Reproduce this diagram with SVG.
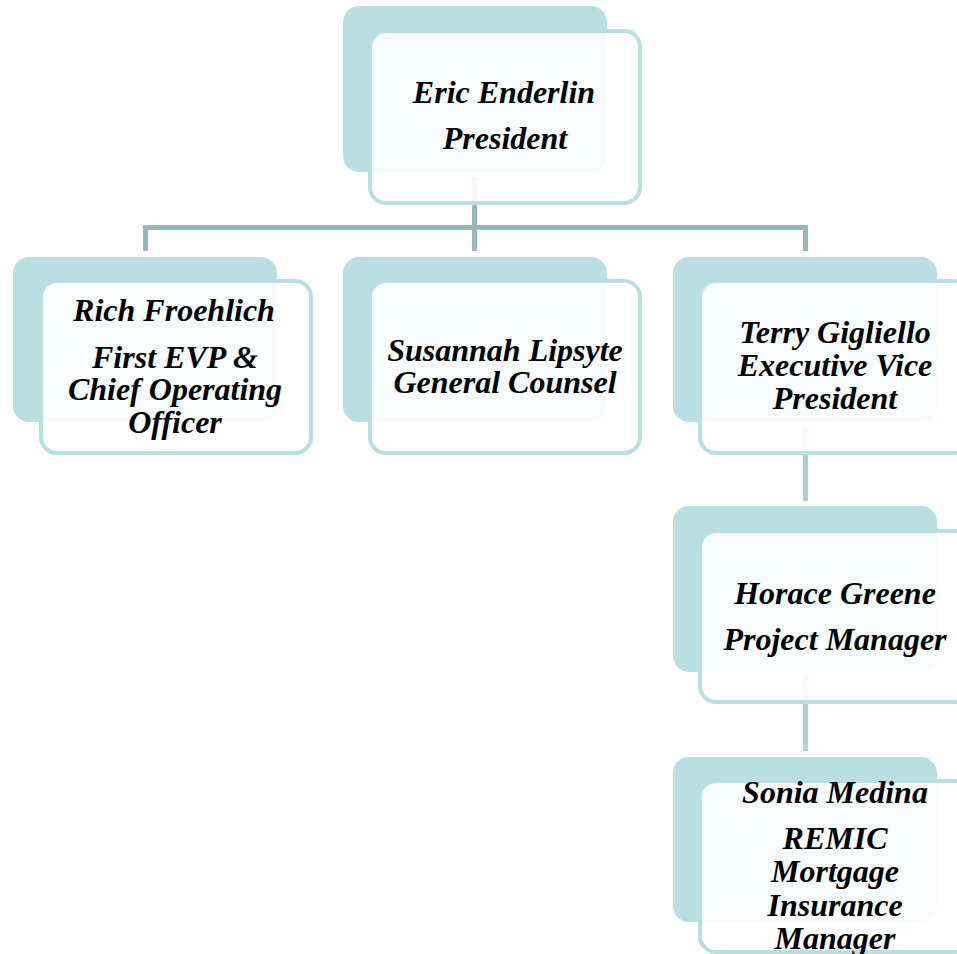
<svg xmlns="http://www.w3.org/2000/svg" width="957" height="954" viewBox="0 0 957 954">
<style>
.bk{fill:#b9dfe2}
.fr{fill:#ffffff;fill-opacity:0.88;stroke:#b9dfe2;stroke-width:4}
.t{font-family:"Liberation Serif","Times New Roman",serif;font-weight:bold;font-style:italic;font-size:32px;fill:#000;text-anchor:middle}
.c1{stroke:#97b8bb;stroke-width:5;fill:none}
.c2{stroke:#a9d3d7;stroke-width:5;fill:none}
</style>
<rect width="957" height="954" fill="#ffffff"/>
<g id="connectors">
<path class="c1" d="M474.5 177V227.5M145.5 251V227.5H805.5V251M474.5 227.5V251"/>
<path class="c2" d="M805.5 427V501"/>
<path class="c2" d="M805.5 677V751"/>
</g>
<g id="n-eric">
<rect class="bk" x="343" y="6" width="264" height="166" rx="16"/>
<rect class="fr" x="370" y="31" width="270" height="172" rx="16"/>
<text class="t" x="504" y="103">Eric Enderlin</text>
<text class="t" x="505" y="149">President</text>
</g>
<g id="n-rich">
<rect class="bk" x="13" y="257" width="264" height="165" rx="16"/>
<rect class="fr" x="41" y="281" width="270" height="172" rx="16"/>
<text class="t" x="174" y="321">Rich Froehlich</text>
<text class="t" x="175" y="368">First EVP &amp;</text>
<text class="t" x="175" y="400">Chief Operating</text>
<text class="t" x="175" y="433">Officer</text>
</g>
<g id="n-susannah">
<rect class="bk" x="343" y="257" width="264" height="165" rx="16"/>
<rect class="fr" x="370" y="281" width="270" height="172" rx="16"/>
<text class="t" x="505" y="361">Susannah Lipsyte</text>
<text class="t" x="505" y="393">General Counsel</text>
</g>
<g id="n-terry">
<rect class="bk" x="673" y="257" width="264" height="165" rx="16"/>
<rect class="fr" x="700" y="281" width="270" height="172" rx="16"/>
<text class="t" x="835" y="343">Terry Gigliello</text>
<text class="t" x="835" y="376">Executive Vice</text>
<text class="t" x="835" y="409">President</text>
</g>
<g id="n-horace">
<rect class="bk" x="673" y="506" width="264" height="166" rx="16"/>
<rect class="fr" x="700" y="531" width="270" height="171" rx="16"/>
<text class="t" x="835" y="604">Horace Greene</text>
<text class="t" x="835" y="650">Project Manager</text>
</g>
<g id="n-sonia">
<rect class="bk" x="673" y="757" width="264" height="165" rx="16"/>
<rect class="fr" x="700" y="781" width="270" height="171" rx="16"/>
<text class="t" x="835" y="803">Sonia Medina</text>
<text class="t" x="835" y="849">REMIC</text>
<text class="t" x="835" y="882">Mortgage</text>
<text class="t" x="835" y="916">Insurance</text>
<text class="t" x="835" y="949">Manager</text>
</g>
</svg>
